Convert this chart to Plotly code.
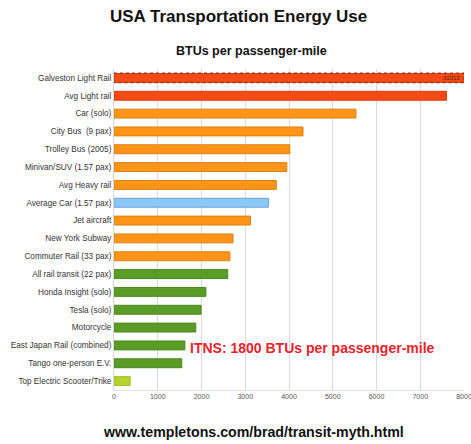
import plotly.graph_objects as go

categories = [
    "Galveston Light Rail", "Avg Light rail", "Car (solo)", "City Bus  (9 pax)",
    "Trolley Bus (2005)", "Minivan/SUV (1.57 pax)", "Avg Heavy rail",
    "Average Car (1.57 pax)", "Jet aircraft", "New York Subway",
    "Commuter Rail (33 pax)", "All rail transit (22 pax)", "Honda Insight (solo)",
    "Tesla (solo)", "Motorcycle", "East Japan Rail (combined)",
    "Tango one-person E.V.", "Top Electric Scooter/Trike",
]
btus = [31013, 7600, 5530, 4320, 4020, 3950, 3710, 3530, 3120, 2720,
        2650, 2600, 2100, 1990, 1870, 1620, 1550, 370]
groups = ["rail_hi", "rail_hi", "mid", "mid", "mid", "mid", "mid", "car",
          "mid", "mid", "mid", "low", "low", "low", "low", "low", "low", "best"]
x_ticks = [0, 1000, 2000, 3000, 4000, 5000, 6000, 7000, 8000]
x_max = 8000

fill = {"rail_hi": "#F44A16", "mid": "#FF9418", "car": "#8CC8F6",
        "low": "#5B9C27", "best": "#B3D330"}
edge = {"rail_hi": "#E23A0A", "mid": "#D9820E", "car": "#6EA4D4",
        "low": "#4B8A1E", "best": "#A0C020"}

fig = go.Figure(go.Bar(
    x=btus, y=categories, orientation="h",
    marker=dict(color=[fill[g] for g in groups],
                line=dict(color=[edge[g] for g in groups], width=1)),
    width=0.5, hoverinfo="x+y",
))

# dashed outline on the off-scale bar
fig.add_shape(type="rect", xref="x", yref="y",
              x0=0, x1=min(btus[0], x_max), y0=-0.27, y1=0.27,
              line=dict(color="#7A2A10", width=1, dash="dot"))
fig.add_annotation(x=x_max, y=categories[0], xref="x", yref="y",
                   text=str(btus[0]), showarrow=False, xanchor="right",
                   xshift=-2, font=dict(size=6, color="#6A1A08",
                                        family="Liberation Sans"))

fig.add_annotation(x=1680, y=categories[15], xref="x", yref="y",
                   text="<b>ITNS: 1800 BTUs per passenger-mile</b>",
                   showarrow=False, xanchor="left", yshift=-3,
                   font=dict(size=14, color="#E8232B", family="Liberation Sans"))

fig.add_annotation(x=238, y=16, text="<b>USA Transportation Energy Use</b>",
                   showarrow=False, font=dict(size=17, color="#111", family="Liberation Sans"))
fig.add_annotation(x=251, y=51, text="<b>BTUs per passenger-mile</b>", showarrow=False,
                   font=dict(size=12.5, color="#111", family="Liberation Sans"))
fig.add_annotation(x=253, y=433, text="<b>www.templetons.com/brad/transit-myth.html</b>",
                   showarrow=False, font=dict(size=14.2, color="#111", family="Liberation Sans"))

# convert pixel-positioned text annotations to paper coordinates
W, H = 471, 444
L, R, T, B = 114, 7, 69, 53.5
pw, ph = W - L - R, H - T - B
for a in fig.layout.annotations[2:]:
    px, py = a.x, a.y
    a.xref = "paper"; a.yref = "paper"
    a.x = (px - L) / pw
    a.y = 1 - (py - T) / ph
    a.xanchor = "center"; a.yanchor = "middle"

fig.update_layout(
    width=W, height=H,
    margin=dict(l=L, r=R, t=T, b=B, pad=0, autoexpand=False),
    paper_bgcolor="white", plot_bgcolor="white",
    showlegend=False,
    font=dict(family="Liberation Sans", color="#333"),
    xaxis=dict(range=[0, x_max], tickvals=x_ticks, showgrid=True,
               gridcolor="#DADADA", gridwidth=1, zeroline=False,
               showline=True, linecolor="#E2E2E2", linewidth=1,
               tickfont=dict(size=7, color="#555"), ticks="", fixedrange=True,
               ticklabeloverflow="allow", automargin=False),
    yaxis=dict(autorange="reversed", tickfont=dict(size=8.2, color="#333"),
               showline=True, linecolor="#D8D8D8", linewidth=1, automargin=False,
               ticks="", ticklen=0, showgrid=False, fixedrange=True),
)

fig.write_html("out.html", config={"displayModeBar": False},
               post_script="document.body.style.margin='0';document.body.style.overflow='hidden';")
